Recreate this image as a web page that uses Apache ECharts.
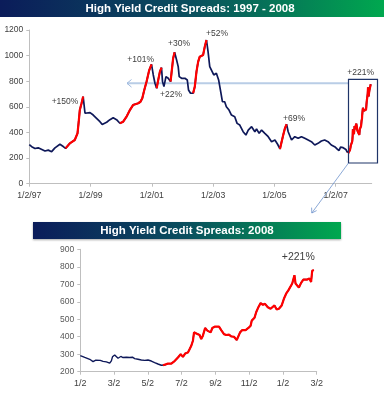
<!DOCTYPE html>
<html><head><meta charset="utf-8">
<script src="https://cdn.jsdelivr.net/npm/echarts@6/dist/echarts.min.js"></script>
<style>html,body{margin:0;padding:0;background:#fff}#c{width:386px;height:400px}</style>
</head><body><div id="c"></div>
<script>
// ---- Data: 1997-2006 (top chart) ----
const topDates = ['1997-01-02','1997-01-31','1997-03-11','1997-04-18','1997-05-08','1997-07-08','1997-08-16','1997-09-25','1997-11-04','1998-01-02','1998-02-11','1998-03-10','1998-04-30','1998-06-28','1998-07-31','1998-08-14','1998-08-27','1998-09-17','1998-10-06','1998-10-28','1998-11-16','1998-12-27','1999-02-03','1999-03-15','1999-04-24','1999-05-21','1999-07-13','1999-08-21','1999-09-29','1999-11-08','1999-12-18','2000-01-26','2000-03-06','2000-04-15','2000-05-24','2000-07-24','2000-08-19','2000-09-10','2000-10-03','2000-11-01','2000-12-01','2000-12-29','2001-01-19','2001-02-08','2001-02-28','2001-03-19','2001-04-08','2001-04-27','2001-05-09','2001-05-26','2001-06-19','2001-07-16','2001-08-13','2001-08-25','2001-09-13','2001-09-30','2001-10-24','2001-11-12','2001-11-24','2001-12-22','2002-01-31','2002-02-28','2002-03-15','2002-04-08','2002-05-09','2002-05-29','2002-06-18','2002-07-08','2002-07-27','2002-08-16','2002-09-05','2002-09-25','2002-10-15','2002-11-03','2002-11-23','2002-12-13','2003-01-10','2003-02-10','2003-03-09','2003-03-30','2003-04-23','2003-05-20','2003-06-09','2003-07-11','2003-08-09','2003-09-17','2003-10-15','2003-11-16','2003-12-26','2004-01-28','2004-02-25','2004-04-05','2004-05-14','2004-06-03','2004-07-04','2004-08-02','2004-09-10','2004-10-20','2004-11-29','2005-01-08','2005-02-09','2005-03-09','2005-03-29','2005-04-17','2005-05-07','2005-05-27','2005-06-15','2005-07-25','2005-09-02','2005-10-12','2005-11-20','2005-12-30','2006-02-08','2006-03-19','2006-04-28','2006-06-06','2006-07-16','2006-08-24','2006-10-03','2006-11-11','2006-12-21'];
const topValues = [305,289,275,280,290,255,262,250,280,308,290,276,315,341,394,484,575,628,680,550,555,555,536,510,484,463,480,500,515,500,472,484,523,575,615,628,640,667,730,800,885,932,849,784,745,810,875,906,797,758,836,823,797,810,980,1026,966,914,836,823,823,810,732,706,706,758,875,953,992,979,1005,1070,1122,1031,914,901,849,862,810,732,640,640,601,575,536,523,471,458,406,380,419,445,406,427,393,419,393,367,328,341,308,271,328,380,432,464,406,341,367,354,367,354,341,328,302,315,333,341,328,302,289];

// ---- Data: 2007 - early 2008 (bottom chart, also end of top chart) ----
const recentDates = ['2007-01-02','2007-01-10','2007-01-19','2007-01-25','2007-01-30','2007-02-01','2007-02-07','2007-02-12','2007-02-18','2007-02-24','2007-02-27','2007-03-01','2007-03-05','2007-03-08','2007-03-11','2007-03-16','2007-03-20','2007-03-26','2007-04-01','2007-04-06','2007-04-10','2007-04-16','2007-04-22','2007-04-28','2007-05-04','2007-05-10','2007-05-16','2007-05-22','2007-05-28','2007-05-31','2007-06-03','2007-06-09','2007-06-15','2007-06-21','2007-06-27','2007-07-02','2007-07-06','2007-07-10','2007-07-15','2007-07-18','2007-07-21','2007-07-24','2007-07-26','2007-07-30','2007-08-02','2007-08-05','2007-08-08','2007-08-11','2007-08-15','2007-08-19','2007-08-22','2007-08-25','2007-08-28','2007-09-02','2007-09-05','2007-09-09','2007-09-13','2007-09-18','2007-09-22','2007-09-27','2007-10-01','2007-10-06','2007-10-11','2007-10-14','2007-10-17','2007-10-21','2007-10-27','2007-11-01','2007-11-05','2007-11-07','2007-11-12','2007-11-15','2007-11-19','2007-11-23','2007-11-27','2007-12-01','2007-12-06','2007-12-11','2007-12-14','2007-12-18','2007-12-22','2007-12-26','2007-12-31','2008-01-04','2008-01-08','2008-01-12','2008-01-15','2008-01-19','2008-01-23','2008-01-25','2008-01-28','2008-01-31','2008-02-04','2008-02-08','2008-02-11','2008-02-15','2008-02-19','2008-02-22','2008-02-24','2008-02-27'];
const recentValues = [292,282,271,258,266,270,265,259,256,249,262,285,296,285,277,287,281,283,281,283,275,271,267,265,267,261,252,244,237,237,238,246,246,261,281,300,285,304,310,329,348,377,425,419,425,410,387,406,450,435,438,425,450,458,469,458,438,415,410,412,402,400,381,381,425,438,438,450,463,492,508,540,569,592,583,588,569,560,563,579,556,560,579,617,646,665,675,704,752,704,694,681,708,727,733,727,733,713,777,781];

// Rises highlighted in red: [start, end, label]
const riseStarts = ['1998-03-10','1999-12-18','2001-02-28','2001-08-13','2002-05-09','2005-03-09','2007-05-31'];
const riseEnds   = ['1998-10-06','2000-12-29','2001-04-27','2001-09-30','2002-10-15','2005-05-27','2008-02-27'];
const riseLabels = ['+150%','+101%','+22%','+30%','+52%','+69%','+221%'];

// Tick labels
const topTickLabels = ['1/2/97','1/2/99','1/2/01','1/2/03','1/2/05','1/2/07'];
const lowTickLabels = ['1/2','3/2','5/2','7/2','9/2','11/2','1/2','3/2'];

// ---- helpers ----
const T0 = Date.UTC(1997,0,2), YEAR = 365.25*864e5;
const T1 = Date.UTC(2007,0,2), MONTH = 30.4375*864e5;
const toYears = d => (Date.parse(d) - T0) / YEAR;
const toMonths = d => (Date.parse(d) - T1) / MONTH;

const allDates = topDates.concat(recentDates);
const allValues = topValues.concat(recentValues);

const NAVY = '#0e1859', RED = '#ff0000', AX = '#bfbfbf', TXT = '#404040';

const series = [];
series.push({type:'line', xAxisIndex:0, yAxisIndex:0, showSymbol:false, z:2,
  lineStyle:{color:NAVY, width:1.7}, data: allDates.map((d,i)=>[toYears(d), allValues[i]])});
riseStarts.forEach((s,k)=>{
  const a = Date.parse(s), b = Date.parse(riseEnds[k]);
  const pts = [];
  allDates.forEach((d,i)=>{ const t = Date.parse(d); if (t>=a && t<=b) pts.push([toYears(d), allValues[i]]); });
  series.push({type:'line', xAxisIndex:0, yAxisIndex:0, showSymbol:false, z:3,
    lineStyle:{color:RED, width:2.2}, data: pts});
});
series.push({type:'line', xAxisIndex:1, yAxisIndex:1, showSymbol:false, z:2,
  lineStyle:{color:NAVY, width:1.4}, data: recentDates.map((d,i)=>[toMonths(d), recentValues[i]])});
{
  const a = Date.parse(riseStarts[6]), b = Date.parse(riseEnds[6]);
  const pts = [];
  recentDates.forEach((d,i)=>{ const t = Date.parse(d); if (t>=a && t<=b) pts.push([toMonths(d), recentValues[i]]); });
  series.push({type:'line', xAxisIndex:1, yAxisIndex:1, showSymbol:false, z:3,
    lineStyle:{color:RED, width:2.2}, data: pts});
}

const grad = {type:'linear', x:0, y:0, x2:1, y2:0, colorStops:[
  {offset:0, color:'#0b1c5a'},{offset:0.5, color:'#0a4f5e'},{offset:1, color:'#00a84f'}]};

const annFont = '8.5px "Liberation Sans", Arial, sans-serif';
const annPos = [[65,102],[140.7,60],[171,95],[179,43.7],[217,34],[294,119],[360.7,72.7]];
const graphics = [
  {type:'rect', shape:{x:0,y:0,width:384,height:17}, style:{fill:grad}},
  {type:'text', x:190, y:8.7, style:{text:'High Yield Credit Spreads: 1997 - 2008', fill:'#fff',
    font:'bold 11.5px "Liberation Sans", Arial, sans-serif', textAlign:'center', textVerticalAlign:'middle'}},
  {type:'rect', shape:{x:33,y:222,width:308,height:17}, style:{fill:grad, shadowBlur:2, shadowColor:'rgba(0,0,0,0.35)', shadowOffsetY:1}},
  {type:'text', x:187, y:230.7, style:{text:'High Yield Credit Spreads: 2008', fill:'#fff',
    font:'bold 11.5px "Liberation Sans", Arial, sans-serif', textAlign:'center', textVerticalAlign:'middle'}},
  // horizontal reference arrow
  {type:'line', shape:{x1:127,y1:83.3,x2:348,y2:83.3}, style:{stroke:'#b9cde6', lineWidth:2}, z:1},
  {type:'polyline', shape:{points:[[131.5,79.5],[127,83.3],[131.5,87.1]]}, style:{stroke:'#9db8de', lineWidth:1, fill:null}, z:1},
  // zoom box
  {type:'rect', shape:{x:348.5,y:79.3,width:29,height:83.7}, style:{stroke:'#1f3468', lineWidth:1.2, fill:null}, z:5},
  // diagonal pointer
  {type:'line', shape:{x1:348.5,y1:163,x2:311.8,y2:213}, style:{stroke:'#6f93cc', lineWidth:0.8}, z:5},
  {type:'polyline', shape:{points:[[311.6,207.6],[311.8,213],[316.6,210.6]]}, style:{stroke:'#6f93cc', lineWidth:0.8, fill:null}, z:5},
  // lower annotation
  {type:'text', x:298.3, y:256.7, style:{text:riseLabels[6], fill:TXT, font:'10.5px "Liberation Sans", Arial, sans-serif', textAlign:'center', textVerticalAlign:'middle'}}
];
riseLabels.forEach((t,i)=>{
  graphics.push({type:'text', x:annPos[i][0], y:annPos[i][1], z:6,
    style:{text:t, fill:TXT, font:annFont, textAlign:'center', textVerticalAlign:'middle'}});
});

const axisCommon = {
  axisLine:{show:true, lineStyle:{color:AX, width:1}},
  axisTick:{show:true, length:3, lineStyle:{color:AX}},
  splitLine:{show:false}
};
const plain = v => String(v);

const chart = echarts.init(document.getElementById('c'), null, {renderer:'canvas'});
chart.setOption({
  animation:false,
  grid:[
    {left:29.3, top:30, width:342.4, height:153.7},
    {left:80.3, top:249.3, width:236.4, height:122.4}
  ],
  xAxis:[
    Object.assign({type:'value', gridIndex:0, min:0, max:11.175}, axisCommon, {
      axisTick:{show:true, length:3, lineStyle:{color:AX}, customValues:[0,2,4,6,8,10]},
      axisLabel:{customValues:[0,2,4,6,8,10], formatter:v=>topTickLabels[Math.round(v/2)], fontSize:8.7, color:TXT, margin:7, fontFamily:'Liberation Sans'}}),
    Object.assign({type:'value', gridIndex:1, min:0, max:14, interval:2}, axisCommon, {
      axisLabel:{formatter:v=>lowTickLabels[Math.round(v/2)], fontSize:9, color:TXT, margin:7, fontFamily:'Liberation Sans'}})
  ],
  yAxis:[
    Object.assign({type:'value', gridIndex:0, min:0, max:1200, interval:200}, axisCommon, {
      axisLabel:{formatter:plain, fontSize:8.5, color:TXT, margin:6, fontFamily:'Liberation Sans'}}),
    Object.assign({type:'value', gridIndex:1, min:200, max:900, interval:100}, axisCommon, {
      axisLabel:{formatter:plain, fontSize:8.5, color:'#595959', margin:6, fontFamily:'Liberation Sans'}})
  ],
  series: series,
  graphic: graphics
});
</script></body></html>
